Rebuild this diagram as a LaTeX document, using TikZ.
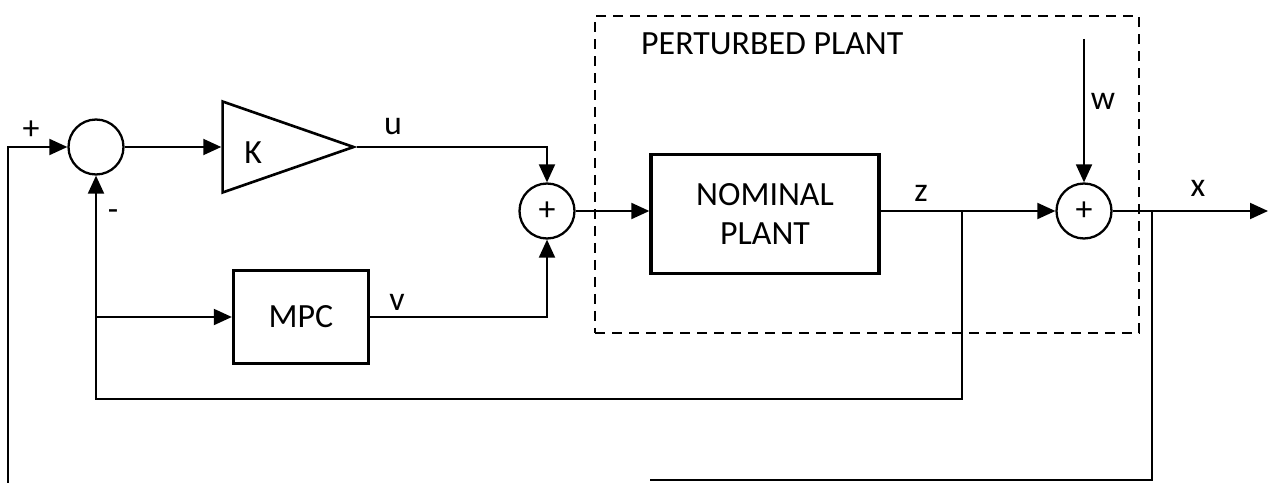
\documentclass[tikz,border=0pt]{standalone}
\usepackage{fontspec}
\setmainfont{Carlito}
\usetikzlibrary{positioning, arrows.meta, shapes.geometric, calc}

\begin{document}
\begin{tikzpicture}[
    x=0.02cm, y=-0.02cm,
    font=\fontsize{19.3}{22}\selectfont,
    >={Triangle[length=0.36cm, width=0.32cm]},
    sumnode/.style={
        draw=black,
        circle,
        line width=1.3pt,
        minimum size=1.1cm,
        inner sep=0pt
    },
    gainblock/.style={
        draw=black,
        isosceles triangle,
        isosceles triangle stretches,
        line width=1.5pt,
        minimum width=1.82cm,
        minimum height=2.62cm,
        inner sep=0pt
    },
    plantblock/.style={
        draw=black,
        line width=1.9pt,
        minimum width=4.56cm,
        minimum height=2.38cm,
        align=center
    },
    mpcblock/.style={
        draw=black,
        line width=1.9pt,
        minimum width=2.7cm,
        minimum height=1.86cm,
        align=center
    },
    plantframe/.style={
        draw=black,
        line width=1.1pt,
        dash pattern=on 0.2cm off 0.14cm,
        minimum width=10.88cm,
        minimum height=6.34cm
    },
    sigline/.style={line width=1.1pt}
]
\useasboundingbox (0,0) rectangle (1268,483);
% ============================================================
% BLOCKS
% ============================================================
\node[plantframe] (perturbed) at (867,174.5) {};
\node[anchor=west] (perturbedlabel) at (635,44) {PERTURBED PLANT};
\node[sumnode] (sum1) at (96,147) {};
\node[gainblock, anchor=apex] (gain) at (357,147) {};
\node (gainlabel) at ($(gain.west)+(32,6)$) {K};
\node[sumnode] (sum2) at (547,211) {+};
\node[mpcblock] (mpc) at (301,317) {MPC};
\node[plantblock] (plant) at (765,214) {NOMINAL\\PLANT};
\node[sumnode] (sum3) at (1084,211) {+};
% ============================================================
% FREE ENDS AND TAPS
% ============================================================
\coordinate (fbbottom) at (8,483);
\coordinate (mpctap) at (96,317);
\coordinate (ztap) at (962,211);
\coordinate (zfb) at (96,399);
\coordinate (xtap) at (1152,211);
\coordinate (xbottom) at (650,480);
\coordinate (xout) at (1268,211);
\coordinate (wtop) at (1084,39);
% ============================================================
% SIGNAL ARROWS
% ============================================================
\draw[sigline, ->] (fbbottom) |- (sum1.west);
\draw[sigline, ->] (sum1.east) -- (gain.west);
\draw[sigline, ->] (gain.apex) -| (sum2.north);
\draw[sigline, ->] (mpc.east) -| (sum2.south);
\draw[sigline, ->] (sum2.east) -- (sum2 -| plant.west);
\draw[sigline, ->] (plant.east |- sum3) -- (sum3.west);
\draw[sigline, ->] (sum3.east) -- (xout);
\draw[sigline, ->] (wtop) -- (sum3.north);
\draw[sigline, ->] (ztap) |- (zfb) -- (sum1.south);
\draw[sigline, ->] (mpctap) -- (mpc.west);
\draw[sigline] (xtap) |- (xbottom);
% ============================================================
% SIGNAL LABELS
% ============================================================
\node (plus1) at (31,130) {+};
\node (minus1) at (113,215) {-};
\node (ulabel) at (393,127) {u};
\node (vlabel) at (397,302) {v};
\node (zlabel) at (921,193) {z};
\node (xlabel) at (1198,188) {x};
\node (wlabel) at (1103,101) {w};
\end{tikzpicture}
\end{document}
